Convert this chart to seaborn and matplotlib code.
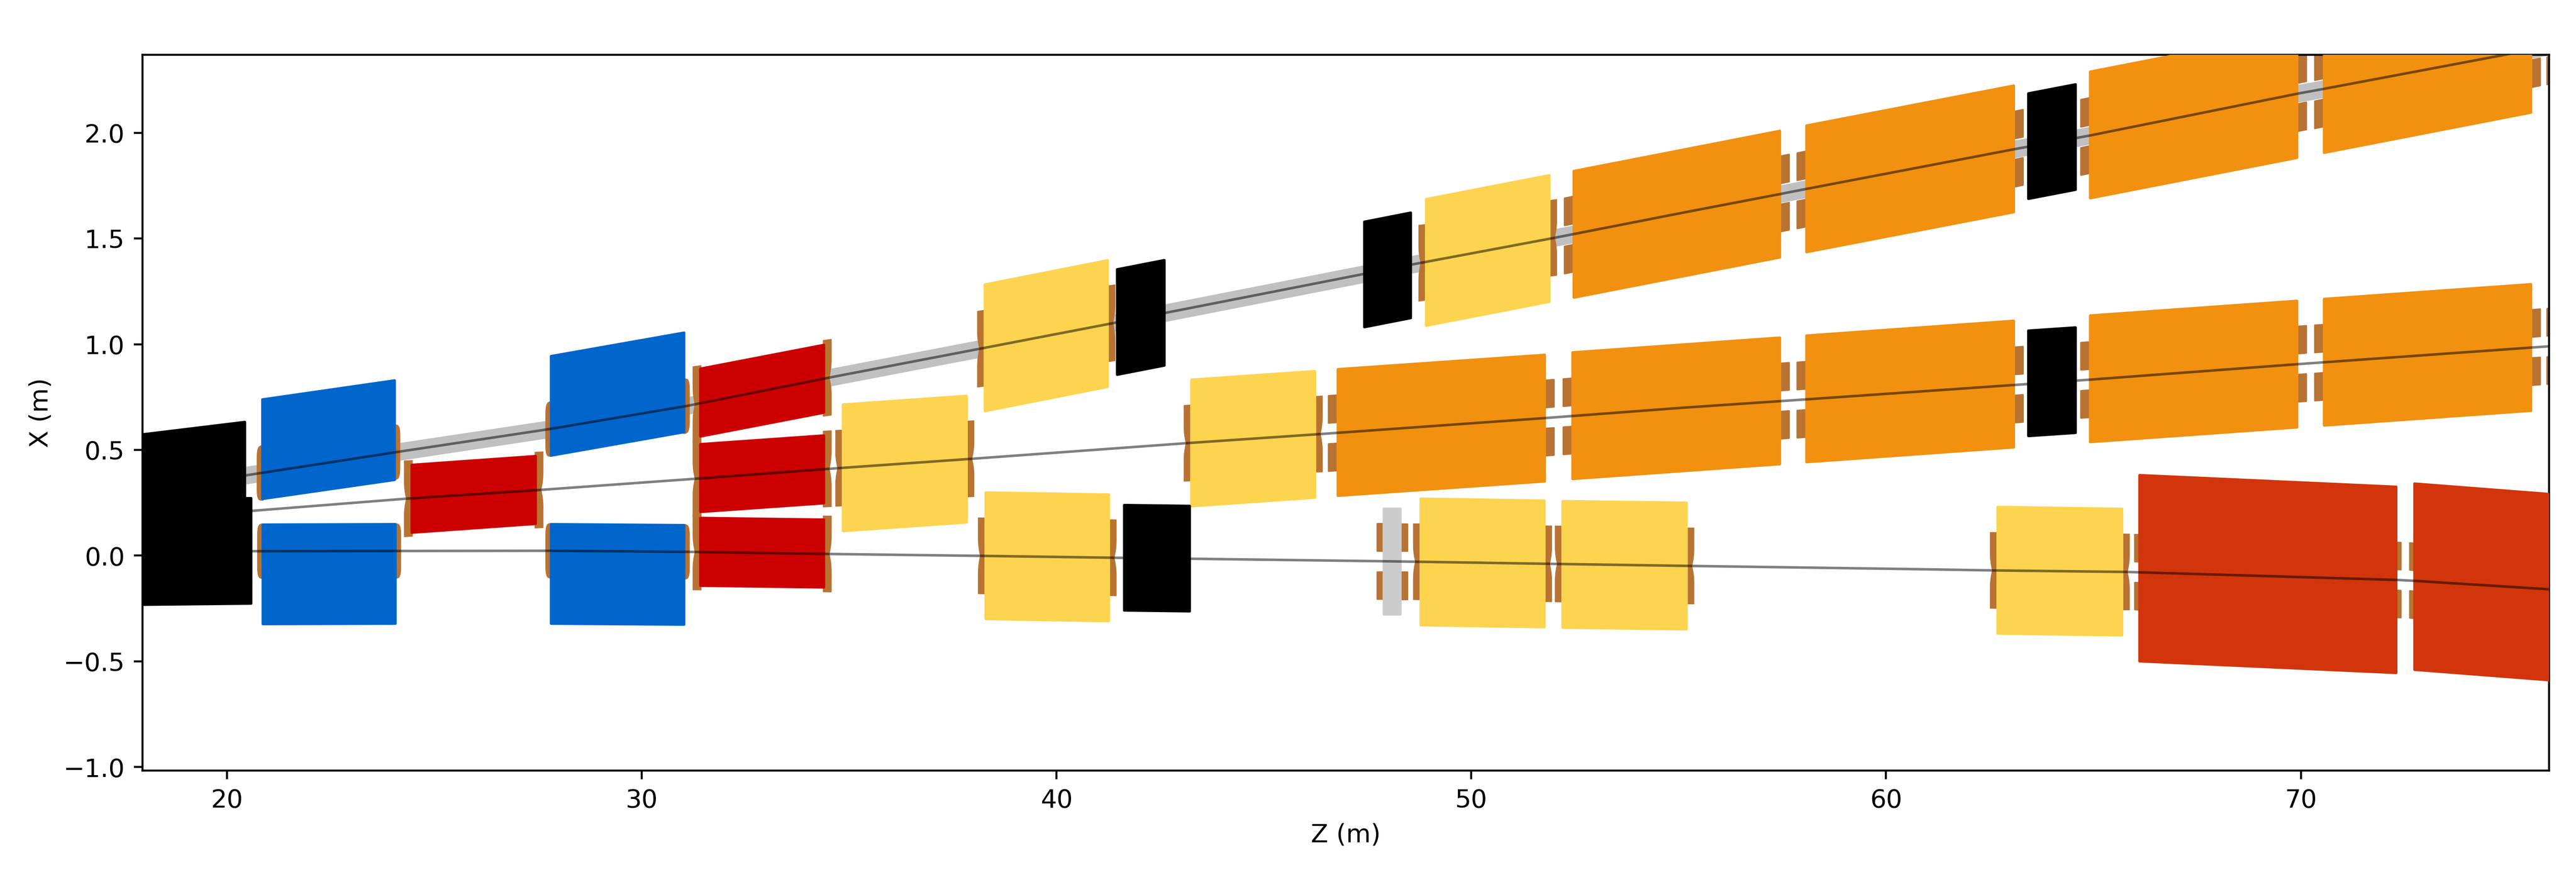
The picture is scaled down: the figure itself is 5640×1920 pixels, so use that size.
import numpy as np
import seaborn as sns
import matplotlib
matplotlib.use("Agg")
import matplotlib.pyplot as plt

# Beam trajectories (Z, X in metres)
upper_z = [17.0, 20.46, 24.09, 27.75, 31.08, 34.46, 38.16, 41.42, 48.62, 51.97, 55.12, 57.46, 58.06, 63.13, 64.88, 69.94, 70.53, 75.02, 76.53]
upper_x = [0.275, 0.38, 0.49, 0.598, 0.708, 0.84, 0.979, 1.102, 1.379, 1.502, 1.623, 1.711, 1.734, 1.924, 1.986, 2.186, 2.207, 2.373, 2.43]
middle_z = [17.0, 20.61, 24.35, 27.49, 31.31, 34.46, 37.95, 43.13, 46.35, 51.79, 55.12, 58.06, 63.14, 64.88, 69.94, 75.97, 76.53]
middle_x = [0.155, 0.212, 0.27, 0.31, 0.364, 0.41, 0.458, 0.532, 0.575, 0.651, 0.70, 0.739, 0.808, 0.832, 0.906, 0.99, 0.998]
lower_z = [17.0, 20.61, 27.75, 31.08, 34.46, 38.16, 41.42, 48.08, 51.97, 55.04, 60.76, 62.63, 65.78, 72.33, 72.73, 75.97, 76.53]
lower_x = [0.021, 0.021, 0.023, 0.018, 0.008, -0.001, -0.01, -0.027, -0.039, -0.048, -0.064, -0.07, -0.077, -0.115, -0.119, -0.159, -0.167]

# Elements: entry Z, exit Z, centre X at entry and exit, and the beam they sit on
blue_z_in = [20.82, 27.78, 20.83, 27.78]
blue_z_out = [24.07, 31.05, 24.09, 31.05]
blue_x_in = [0.5035, 0.7085, -0.0885, -0.0865]
blue_x_out = [0.5935, 0.8195, -0.0865, -0.091]
blue_beam = ["upper", "upper", "lower", "lower"]

red_z_in = [24.42, 31.38, 31.38, 31.38]
red_z_out = [27.47, 34.42, 34.42, 34.42]
red_x_in = [0.269, 0.724, 0.367, 0.018]
red_x_out = [0.3105, 0.8365, 0.408, 0.010]
red_beam = ["middle", "upper", "middle", "lower"]

yellow_z_in = [34.82, 38.24, 43.22, 48.88, 38.26, 48.75, 52.17, 62.66]
yellow_z_out = [37.86, 41.26, 46.26, 51.91, 41.29, 51.79, 55.22, 65.72]
yellow_x_in = [0.4155, 0.983, 0.533, 1.387, -0.0005, -0.03, -0.0415, -0.069]
yellow_x_out = [0.4565, 1.0975, 0.5735, 1.5, -0.0105, -0.039, -0.049, -0.078]
yellow_beam = ["middle", "upper", "middle", "upper", "lower", "lower", "lower", "lower"]

orange_z_in = [52.44, 58.05, 64.89, 70.53, 76.13, 46.75, 52.41, 58.05, 64.89, 70.53, 76.13]
orange_z_out = [57.47, 63.11, 69.94, 75.58, 81.18, 51.8, 57.47, 63.11, 69.94, 75.58, 81.18]
orange_x_in = [1.52, 1.735, 1.99, 2.205, 2.42, 0.5825, 0.662, 0.7415, 0.8365, 0.915, 0.993]
orange_x_out = [1.71, 1.924, 2.181, 2.395, 2.61, 0.6505, 0.732, 0.8115, 0.906, 0.9845, 1.06]
orange_beam = ["upper"] * 5 + ["middle"] * 6

bend_z_in = [66.08, 72.71]
bend_z_out = [72.33, 78.96]
bend_x_in = [-0.0595, -0.0995]
bend_x_out = [-0.1145, -0.1935]
bend_beam = ["lower", "lower"]

grey_z_in = [47.86]
grey_z_out = [48.32]
grey_x_in = [-0.028]
grey_x_out = [-0.028]
grey_beam = ["lower"]

black_z_in = [17.0, 17.0, 41.43, 47.39, 41.6, 63.4, 63.4]
black_z_out = [20.46, 20.61, 42.63, 48.57, 43.24, 64.6, 64.6]
black_x_in = [0.302, 0.015, 1.105, 1.33, -0.01, 1.937, 0.815]
black_x_out = [0.383, 0.0225, 1.1485, 1.373, -0.014, 1.98, 0.83]

x_ticks = [20, 30, 40, 50, 60, 70]
y_ticks = [-1.0, -0.5, 0.0, 0.5, 1.0, 1.5, 2.0]

beams = {"upper": (upper_z, upper_x), "middle": (middle_z, middle_x), "lower": (lower_z, lower_x)}
COPPER = "#b87333"
# the rounded outline adds this much around each polygon, so pull the polygon in by it
INSET_Z = 0.031
INSET_X = 0.006


def coil_profile(t, kind):
    # how far the coil sticks out of the magnet face, across its height (t from -1 to 1)
    if kind == "lens":
        return np.sqrt(np.clip(1 - np.abs(t) ** 8, 0, 1))
    pinch = np.clip(1 - np.abs(t) / 0.45, 0, 1)
    return 1 - 0.34 * pinch ** 2


def draw_coil(ax, z_face, direction, slope, beam, ext, half, kind):
    centre = np.interp(z_face, *beams[beam])
    if kind == "split":
        back = z_face - direction * 0.05
        tip = z_face + direction * (ext - 0.018)
        for lo, hi in [(0.0495, half - 0.0036), (-half + 0.0036, -0.0495)]:
            zs = [back, tip, tip, back]
            xs = [centre + lo - slope * direction * 0.05, centre + lo + slope * direction * ext,
                  centre + hi + slope * direction * ext, centre + hi - slope * direction * 0.05]
            ax.fill(zs, xs, color=COPPER, lw=0.6, joinstyle="round", zorder=2)
        return
    t = np.linspace(-1, 1, 81)
    out = ext * coil_profile(t, kind)
    zs = np.concatenate([[z_face - direction * 0.05], z_face + direction * out, [z_face - direction * 0.05]])
    xs = np.concatenate([[centre - half], centre + t * half + slope * direction * out, [centre + half]])
    ax.fill(zs, xs, color=COPPER, lw=0.2, joinstyle="round", zorder=2)


def draw_family(ax, z_in, z_out, x_in, x_out, color, half_width, beam=None, ext=0.0, half=0.0, kind=None):
    for i in range(len(z_in)):
        slope = (x_out[i] - x_in[i]) / (z_out[i] - z_in[i])
        if beam is not None:
            draw_coil(ax, z_in[i], -1, slope, beam[i], ext, half, kind)
            draw_coil(ax, z_out[i], 1, slope, beam[i], ext, half, kind)
        zs = [z_in[i] + INSET_Z, z_out[i] - INSET_Z, z_out[i] - INSET_Z, z_in[i] + INSET_Z]
        hw = half_width - INSET_X
        xs = [x_in[i] - hw, x_out[i] - hw, x_out[i] + hw, x_in[i] + hw]
        ax.fill(zs, xs, color=color, lw=1, joinstyle="round", zorder=3)


sns.reset_orig()
fig, ax = plt.subplots(figsize=(14.1, 4.8), dpi=400)
fig.subplots_adjust(left=312 / 5640, right=5581 / 5640, top=1 - 120 / 1920, bottom=1 - 1686.7 / 1920)

# beam pipe of the upper line
ax.fill_between(upper_z, np.array(upper_x) - 0.042, np.array(upper_x) + 0.042, color="#c0c0c0", lw=0, zorder=1)

draw_family(ax, blue_z_in, blue_z_out, blue_x_in, blue_x_out, "#0066cc", 0.241, blue_beam, 0.10, 0.13, "lens")
draw_family(ax, red_z_in, red_z_out, red_x_in, red_x_out, "#cc0000", 0.166, red_beam, 0.15, 0.18, "pinch")
draw_family(ax, yellow_z_in, yellow_z_out, yellow_x_in, yellow_x_out, "#fdd44f", 0.305, yellow_beam, 0.15, 0.18, "pinch")
draw_family(ax, orange_z_in, orange_z_out, orange_x_in, orange_x_out, "#f29010", 0.305, orange_beam, 0.21, 0.182, "split")
draw_family(ax, bend_z_in, bend_z_out, bend_x_in, bend_x_out, "#d2350b", 0.446, bend_beam, 0.10, 0.181, "split")
draw_family(ax, grey_z_in, grey_z_out, grey_x_in, grey_x_out, "#cccccc", 0.256, grey_beam, 0.15, 0.182, "split")
draw_family(ax, black_z_in, black_z_out, black_x_in, black_x_out, "black", 0.255)

for name, (z, x) in beams.items():
    sns.lineplot(x=z, y=x, color="black", alpha=0.5, linewidth=1, estimator=None, errorbar=None,
                 sort=False, ax=ax, zorder=5)

ax.set_xlim(17.96, 75.985)
ax.set_ylim(-1.016, 2.369)
ax.set_xticks(x_ticks)
ax.set_yticks(y_ticks)
ax.set_xlabel("Z (m)")
ax.set_ylabel("X (m)")

fig.savefig("out.png", dpi=400)
